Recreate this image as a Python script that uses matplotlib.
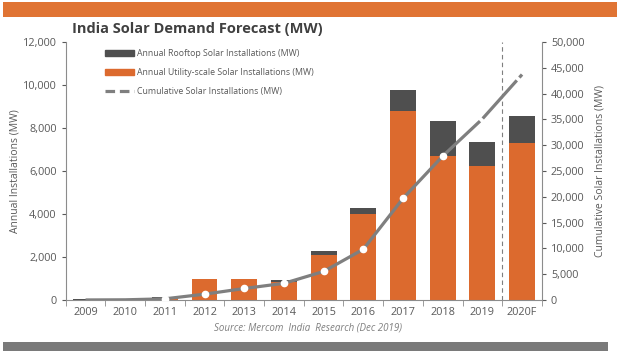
import matplotlib.pyplot as plt
from matplotlib.lines import Line2D
from matplotlib.patches import Patch

# Data
years = ["2009", "2010", "2011", "2012", "2013", "2014", "2015", "2016",
         "2017", "2018", "2019", "2020F"]
utility = [20, 20, 100, 970, 980, 850, 2100, 4000, 8800, 6680, 6250, 7300]
rooftop = [10, 15, 40, 30, 20, 80, 190, 280, 980, 1660, 1100, 1260]
cumulative = [30, 60, 250, 1150, 2250, 3250, 5550, 9850, 19700, 27900, 35100, 43700]

ORANGE = "#DC6A2E"
DARK = "#4F4F4F"
LINE = "#7F7F7F"
TXT = "#595959"

plt.rcParams["font.family"] = ["Open Sans", "DejaVu Sans"]

fig = plt.figure(figsize=(6.2, 3.56), dpi=100)
ax = fig.add_axes([0.106, 0.157, 0.768, 0.725])
ax2 = ax.twinx()

x = list(range(len(years)))
ax.bar(x, utility, width=0.65, color=ORANGE, zorder=2)
ax.bar(x, rooftop, width=0.65, bottom=utility, color=DARK, zorder=2)
ax.axvline(10.5, color=LINE, lw=0.8, ls=(0, (4, 3)), zorder=1)

# cumulative line: solid to 2018, dashed for 2019/2020F
ax2.plot(x[:10], cumulative[:10], color=LINE, lw=2.3, solid_capstyle="butt", zorder=3)
ax2.plot(x[9:], cumulative[9:], color=LINE, lw=2.3, ls=(0, (16, 1.2)), zorder=3)
ax2.plot(x[2:10], cumulative[2:10], ls="none", marker="o", ms=4.5,
         mfc="white", mec="white", zorder=4)

ax.set_xlim(-0.5, 11.5)
ax.set_ylim(0, 12000)
ax2.set_ylim(0, 50000)
ax.set_yticks(range(0, 12001, 2000))
ax2.set_yticks(range(0, 50001, 5000))
ax.set_yticklabels([f"{v:,}" for v in range(0, 12001, 2000)])
ax2.set_yticklabels([f"{v:,}" for v in range(0, 50001, 5000)])
ax.set_xticks(x)
ax.set_xticklabels(years)
ax.set_xticks([i + 0.5 for i in range(-1, 12)], minor=True)

for a in (ax, ax2):
    a.spines["top"].set_visible(False)
    for s in ("left", "right", "bottom"):
        a.spines[s].set_color("#8C8C8C")
        a.spines[s].set_linewidth(0.8)
    a.tick_params(colors=TXT, labelsize=7.8, length=3, width=0.8)
ax.spines["right"].set_visible(False)
ax2.spines["left"].set_visible(False)
ax2.spines["bottom"].set_visible(False)
ax.tick_params(axis="x", which="major", length=0, pad=5)
ax.tick_params(axis="x", which="minor", length=4, color="#8C8C8C")

ax.set_ylabel("Annual Installations (MW)", fontsize=7.5, color=TXT, labelpad=2)
ax2.set_ylabel("Cumulative Solar Installations (MW)", fontsize=7.5, color=TXT, labelpad=7)

handles = [Patch(color=DARK), Patch(color=ORANGE),
           Line2D([], [], color=LINE, lw=2.3, ls=(0, (3, 1.5)))]
labels = ["Annual Rooftop Solar Installations (MW)",
          "Annual Utility-scale Solar Installations (MW)",
          "Cumulative Solar Installations (MW)"]
leg = ax2.legend(handles, labels, loc="upper left", bbox_to_anchor=(0.163, 0.872),
                 bbox_transform=fig.transFigure, frameon=False, fontsize=6.3,
                 handlelength=3.4, handleheight=0.6, handletextpad=0.3,
                 labelspacing=1.15, borderaxespad=0)
for t in leg.get_texts():
    t.set_color(TXT)

fig.text(0.116, 0.918, "India Solar Demand Forecast (MW)", fontsize=10.5,
         fontweight="bold", color="#404040", va="center")
fig.text(0.497, 0.078, "Source: Mercom  India  Research (Dec 2019)", fontsize=7,
         style="italic", color="#7F7F7F", ha="center", va="center")

# header and footer bands
fig.add_artist(plt.Rectangle((0.005, 0.952), 0.99, 0.042, transform=fig.transFigure,
                             color="#E07434", lw=0))
fig.add_artist(plt.Rectangle((0.005, 0.013), 0.975, 0.027, transform=fig.transFigure,
                             color="#7A7A7A", lw=0))

fig.savefig("out.png", dpi=100)
